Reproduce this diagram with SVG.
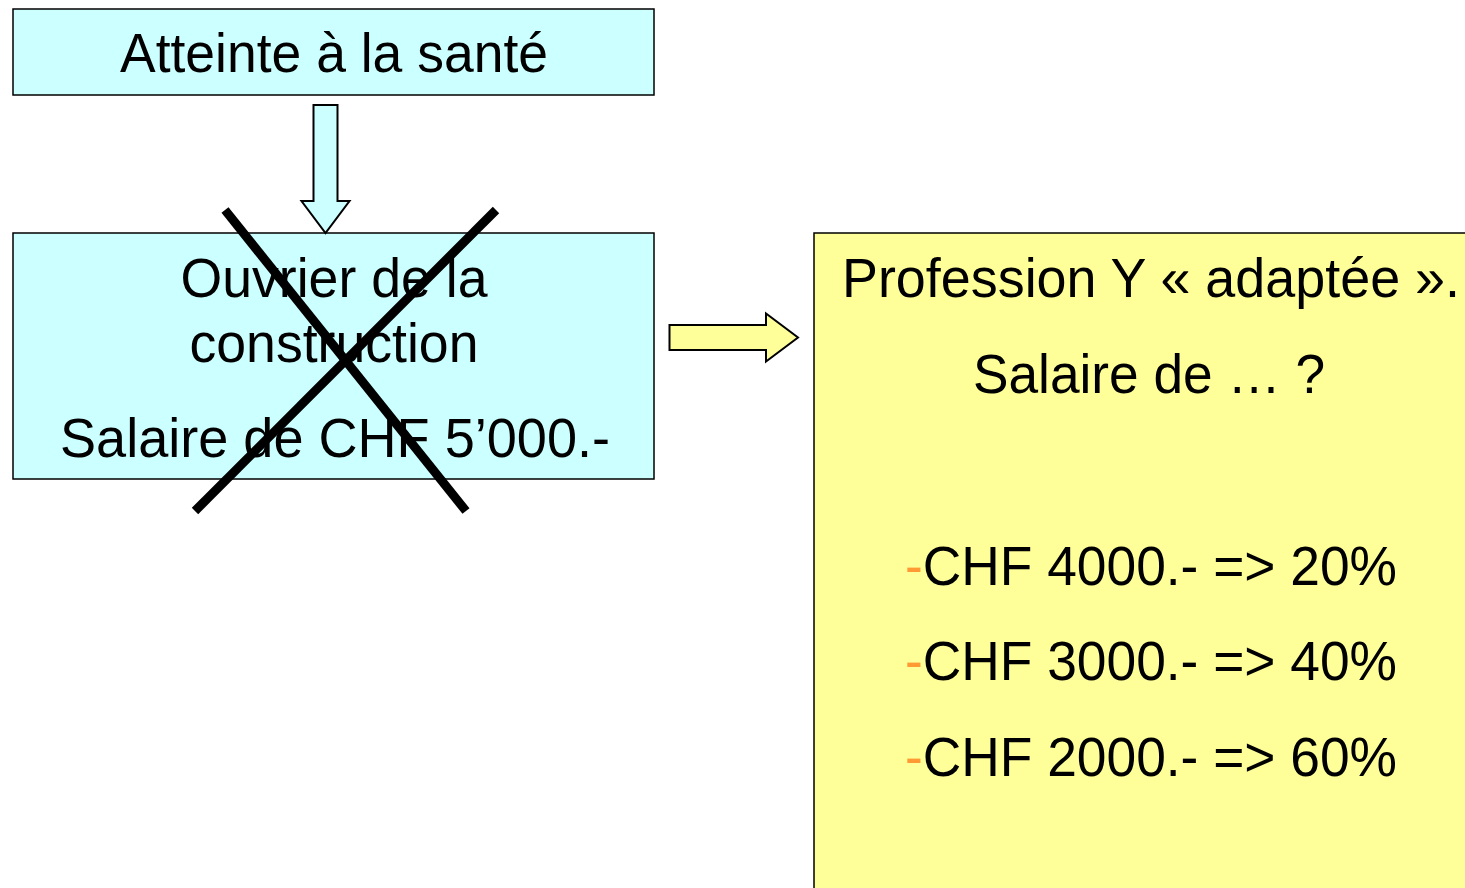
<svg xmlns="http://www.w3.org/2000/svg" width="1465" height="888" viewBox="0 0 1465 888">
<style>
  .t { font-family: "Liberation Sans", Arial, sans-serif; font-size: 55px; fill: #000; text-anchor: middle; }
  .box { stroke: #000; stroke-width: 1.5; }
  .cyan { fill: #CCFFFF; }
  .yellow { fill: #FFFF99; }
  .arrow { stroke: #000; stroke-width: 2; stroke-linejoin: miter; }
  .cross { stroke: #000; stroke-width: 9; stroke-linecap: butt; }
  .dash { fill: #FF9933; }
</style>
<rect width="1465" height="888" fill="#FFFFFF"/>
<g id="node-atteinte">
  <rect class="box cyan" x="13" y="9" width="641" height="86"/>
  <text class="t" x="334" y="72" textLength="428" lengthAdjust="spacingAndGlyphs">Atteinte à la santé</text>
</g>
<g id="node-ouvrier">
  <rect class="box cyan" x="13" y="233" width="641" height="246"/>
  <text class="t" x="334" y="297" textLength="307" lengthAdjust="spacingAndGlyphs">Ouvrier de la</text>
  <text class="t" x="334" y="362" textLength="289" lengthAdjust="spacingAndGlyphs">construction</text>
  <text class="t" x="335" y="457" textLength="550" lengthAdjust="spacingAndGlyphs">Salaire de CHF 5’000.-</text>
</g>
<g id="node-profession">
  <rect class="box yellow" x="814" y="233" width="720" height="720"/>
  <text class="t" x="1151" y="297" textLength="618" lengthAdjust="spacingAndGlyphs">Profession Y « adaptée ».</text>
  <text class="t" x="1149" y="393" textLength="352" lengthAdjust="spacingAndGlyphs">Salaire de … ?</text>
  <text class="t" x="1151" y="585" textLength="492" lengthAdjust="spacingAndGlyphs"><tspan class="dash">-</tspan>CHF 4000.- =&gt; 20%</text>
  <text class="t" x="1151" y="680" textLength="492" lengthAdjust="spacingAndGlyphs"><tspan class="dash">-</tspan>CHF 3000.- =&gt; 40%</text>
  <text class="t" x="1151" y="776" textLength="492" lengthAdjust="spacingAndGlyphs"><tspan class="dash">-</tspan>CHF 2000.- =&gt; 60%</text>
</g>
<g id="connectors">
  <polygon class="arrow cyan" points="313.5,105 337.5,105 337.5,201 349.5,201 325.5,233 301.5,201 313.5,201"/>
  <polygon class="arrow yellow" points="669.5,325 766,325 766,313.5 798,337.5 766,361.5 766,350 669.5,350"/>
</g>
<g id="cross">
  <line class="cross" x1="225" y1="210" x2="466" y2="511"/>
  <line class="cross" x1="496" y1="210" x2="195" y2="511"/>
</g>
</svg>
